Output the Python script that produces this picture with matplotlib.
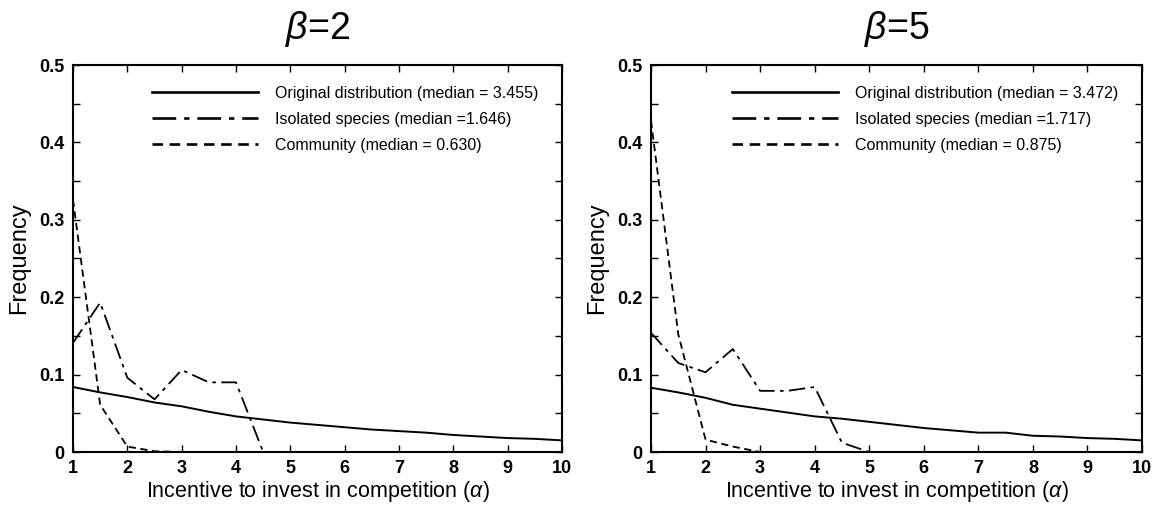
import matplotlib
matplotlib.use('Agg')
import matplotlib.pyplot as plt
from matplotlib.ticker import MultipleLocator

plt.rcParams['font.family'] = ['Liberation Sans', 'DejaVu Sans']
plt.rcParams['mathtext.fontset'] = 'custom'
plt.rcParams['mathtext.rm'] = 'Liberation Sans'
plt.rcParams['mathtext.it'] = 'Liberation Sans:italic'

# incentive values (alpha) on a 0.5 grid
alpha = [1, 1.5, 2, 2.5, 3, 3.5, 4, 4.5, 5, 5.5, 6, 6.5, 7, 7.5, 8, 8.5, 9, 9.5, 10]

# beta = 2
orig_b2 = [0.084, 0.077, 0.071, 0.064, 0.059, 0.052, 0.046, 0.042, 0.038, 0.035, 0.032,
           0.029, 0.027, 0.025, 0.022, 0.020, 0.018, 0.017, 0.015]
iso_b2 = [0.141, 0.193, 0.096, 0.068, 0.106, 0.090, 0.090, 0.0, 0.0, 0.0, 0.0,
          0.0, 0.0, 0.0, 0.0, 0.0, 0.0, 0.0, 0.0]
comm_b2 = [0.326, 0.061, 0.007, 0.001, 0.0, 0.0, 0.0, 0.0, 0.0, 0.0, 0.0,
           0.0, 0.0, 0.0, 0.0, 0.0, 0.0, 0.0, 0.0]

# beta = 5
orig_b5 = [0.083, 0.077, 0.070, 0.061, 0.056, 0.051, 0.046, 0.043, 0.039, 0.035, 0.031,
           0.028, 0.025, 0.025, 0.021, 0.020, 0.018, 0.017, 0.015]
iso_b5 = [0.154, 0.115, 0.103, 0.133, 0.079, 0.079, 0.084, 0.012, 0.0]
comm_b5 = [0.428, 0.152, 0.016, 0.007, 0.0]

medians_b2 = ['3.455', '1.646', '0.630']
medians_b5 = ['3.472', '1.717', '0.875']

fig = plt.figure(figsize=(11.6, 5.11), dpi=100)
W, H = 1160.0, 511.0
ax1 = fig.add_axes([73 / W, (H - 452) / H, 489 / W, 387 / H])
ax2 = fig.add_axes([651 / W, (H - 452) / H, 491 / W, 387 / H])

dashdot = (0, (9, 3, 2, 3))
dashed = (0, (4, 2.5))

def panel(ax, orig, iso, comm, med, title):
    ax.plot(alpha[:len(orig)], orig, color='black', lw=1.4, ls='-',
            label='Original distribution (median = %s)' % med[0])
    ax.plot(alpha[:len(iso)], iso, color='black', lw=1.3, ls=dashdot,
            label='Isolated species (median =%s)' % med[1])
    ax.plot(alpha[:len(comm)], comm, color='black', lw=1.3, ls=dashed,
            label='Community (median = %s)' % med[2])
    ax.set_xlim(1, 10)
    ax.set_ylim(0, 0.5)
    ax.xaxis.set_major_locator(MultipleLocator(1))
    ax.yaxis.set_minor_locator(MultipleLocator(0.05))
    ax.set_yticks([0, 0.1, 0.2, 0.3, 0.4, 0.5])
    ax.set_yticklabels(['0', '0.1', '0.2', '0.3', '0.4', '0.5'])
    ax.tick_params(which='both', direction='in', top=True, right=True,
                   length=5, width=1, labelsize=13, pad=6)
    for lab in ax.get_xticklabels() + ax.get_yticklabels():
        lab.set_fontweight('bold')
    for s in ax.spines.values():
        s.set_linewidth(1.5)
    ax.set_xlabel(r'Incentive to invest in competition ($\alpha$)', fontsize=15.5, labelpad=1)
    ax.set_ylabel('Frequency', fontsize=17, labelpad=7)
    ax.set_title(title, fontsize=27, pad=19)
    leg = ax.legend(loc='upper right', frameon=False, fontsize=11.5, handlelength=6.6,
                    handletextpad=1.1, labelspacing=0.68, borderaxespad=0.3,
                    bbox_to_anchor=(0.975, 0.975))
    for h in leg.get_lines():
        h.set_linewidth(1.9)

panel(ax1, orig_b2, iso_b2, comm_b2, medians_b2, r'$\beta$=2')
panel(ax2, orig_b5, iso_b5, comm_b5, medians_b5, r'$\beta$=5')

plt.savefig('out.png', dpi=100)
